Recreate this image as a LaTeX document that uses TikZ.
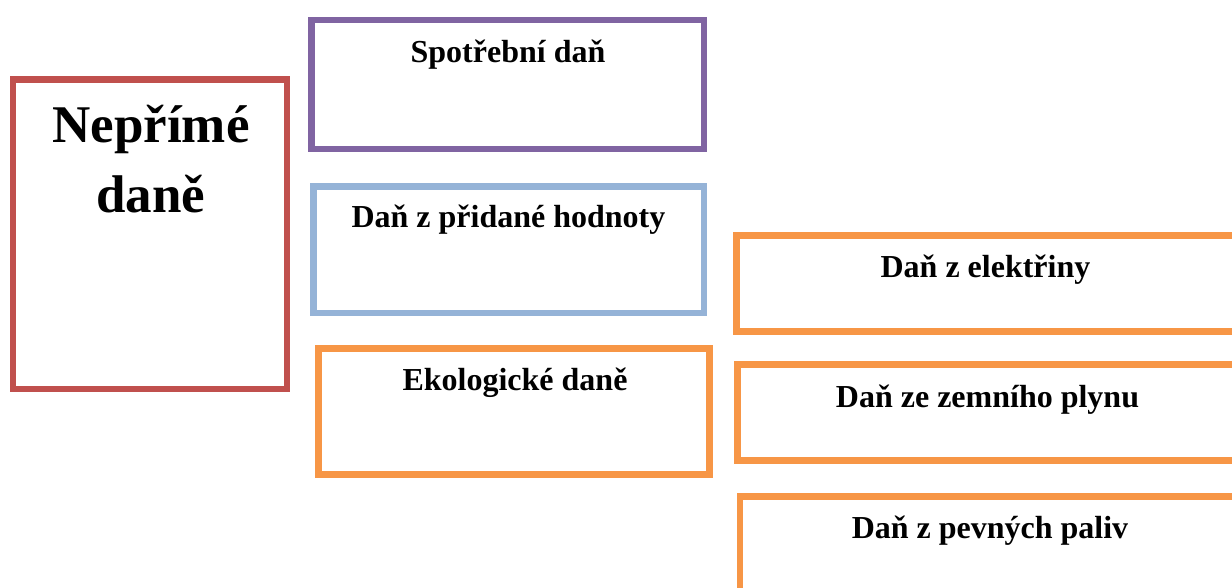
\documentclass[tikz,border=0pt]{standalone}
\usepackage{fontspec}
\setmainfont{Liberation Serif}
\definecolor{cred}{HTML}{C0504D}
\definecolor{cpurple}{HTML}{8064A2}
\definecolor{cblue}{HTML}{95B3D7}
\definecolor{corange}{HTML}{F79646}
\tikzset{
  box/.style={draw=#1, line width=3.3pt, rectangle, inner sep=0pt, fill=white},
  lbl/.style={anchor=base, inner sep=0pt, font=\bfseries\fontsize{16}{19}\selectfont},
  biglbl/.style={anchor=base, inner sep=0pt, font=\bfseries\fontsize{26.5}{30}\selectfont}
}
\begin{document}
\begin{tikzpicture}[x=0.5pt,y=-0.5pt]
\useasboundingbox (0,0) rectangle (1232,588);
\clip (0,0) rectangle (1232,588);
\fill[white] (0,0) rectangle (1232,588);
% boxes
\node[box=cred, minimum width=137pt, minimum height=154.75pt] (main) at (150,234.25) {};
\node[box=cpurple, minimum width=196.25pt, minimum height=64.5pt] (spot) at (507.75,84.5) {};
\node[box=cblue, minimum width=195.25pt, minimum height=63.25pt] (dph) at (508.75,249.75) {};
\node[box=corange, minimum width=195.5pt, minimum height=63pt] (eko) at (514,411.5) {};
\node[box=corange, minimum width=251.75pt, minimum height=48pt] (ele) at (988.25,283.5) {};
\node[box=corange, minimum width=251.25pt, minimum height=48pt] (plyn) at (988.75,412.5) {};
\node[box=corange, minimum width=250pt, minimum height=48pt] (pal) at (990,544.5) {};
% labels
\node[biglbl] (mainA) at (151,143) {Nepřímé};
\node[biglbl] (mainB) at (151,213) {daně};
\node[lbl] (spotT) at (508,63) {Spotřební daň};
\node[lbl] (dphT) at (508.5,228) {Daň z přidané hodnoty};
\node[lbl] (ekoT) at (515,390) {Ekologické daně};
\node[lbl] (eleT) at (985.5,278) {Daň z elektřiny};
\node[lbl] (plynT) at (987.5,408) {Daň ze zemního plynu};
\node[lbl] (palT) at (990,538) {Daň z pevných paliv};
\end{tikzpicture}
\end{document}
